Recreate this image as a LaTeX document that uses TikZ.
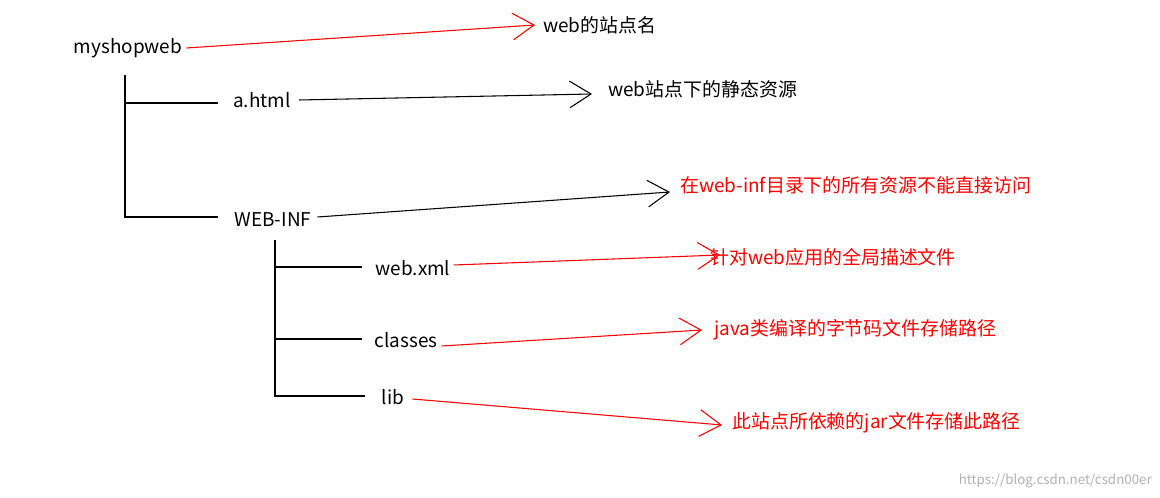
\documentclass[tikz,border=0pt]{standalone}
\usepackage{fontspec}
\setmainfont{Noto Sans CJK SC}
\usetikzlibrary{arrows.meta}
\begin{document}
\begin{tikzpicture}[x=0.75pt,y=-0.75pt,
  t/.style={font=\fontsize{14.2}{16}\selectfont,inner sep=0pt},
  ln/.style={line width=0.8pt},
  ar/.style={line width=0.8pt,-{Straight Barb[length=16pt,width=20pt]}},
  rd/.style={red}]
\useasboundingbox (0,0) rectangle (1160,498);
\node[t] (root) at (128,48) {myshopweb};
\node[t] (a) at (262,100) {a.html};
\node[t] (w) at (273,220) {WEB-INF};
\node[t] (x) at (413,268) {web.xml};
\node[t] (c) at (406,340) {classes};
\node[t] (l) at (393,397) {lib};
\node[t,anchor=west] (la) at (543,25) {web的站点名};
\node[t,anchor=west] (lb) at (608,89) {web站点下的静态资源};
\node[t,anchor=west,rd] (lc) at (680,185) {在web-inf目录下的所有资源不能直接访问};
\node[t,anchor=west,rd] (ld) at (710,257) {针对web应用的全局描述文件};
\node[t,anchor=west,rd] (le) at (714,330) {java类编译的字节码文件存储路径};
\node[t,anchor=west,rd] (lf) at (732,423) {此站点所依赖的jar文件存储此路径};
\node[font=\fontsize{10}{11}\selectfont,text=gray!60,anchor=east,inner sep=0pt] (wm) at (1152,481) {https://blog.csdn.net/csdn00er};
\coordinate (v1) at (125,75); \coordinate (v2) at (125,217);
\draw[ln] (v1) -- (v2) -- (218,217);
\draw[ln] (125,103) -- (218,103);
\coordinate (u1) at (275,240); \coordinate (u2) at (275,396);
\draw[ln] (u1) -- (u2) -- (365,396);
\draw[ln] (275,267) -- (362,267);
\draw[ln] (275,339) -- (362,339);
\draw[ar,red] (root.east)++(4,0) -- (535,25);
\draw[ar] (a.east)++(8,0) -- (592,94);
\draw[ar] (w.east)++(6,-3) -- (670,192);
\draw[ar,red] (x.east)++(3,-3) -- (720,255);
\draw[ar,red] (c.east)++(4,6) -- (702,330);
\draw[ar,red] (l.east)++(8,2) -- (722,425);
\end{tikzpicture}
\end{document}
